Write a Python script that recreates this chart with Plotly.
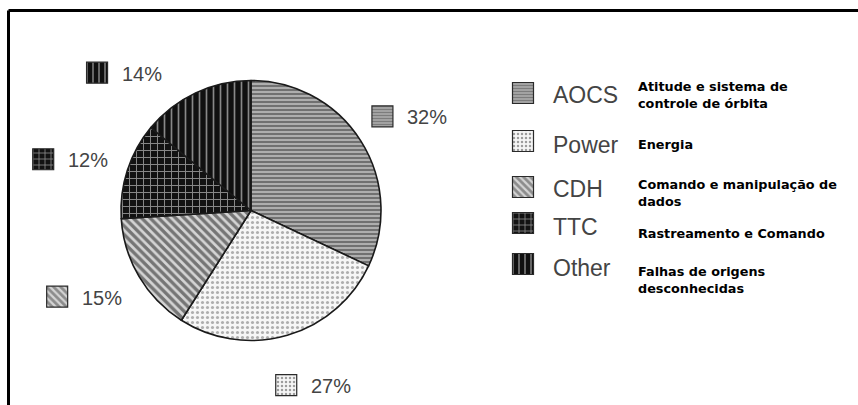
import math
import plotly.graph_objects as go

# ---- data ----
categories = ["AOCS", "Power", "CDH", "TTC", "Other"]
shares = [32, 27, 15, 12, 14]
descriptions = [
    "Atitude e sistema de<br>controle de órbita",
    "Energia",
    "Comando e manipulação de<br>dados",
    "Rastreamento e Comando",
    "Falhas de origens<br>desconhecidas",
]

# ---- layout constants (pixels) ----
W, H = 858, 405
CX, CY, R = 251, 210.5, 130          # pie centre (from top) and radius
LABEL_R = 186                        # distance of percentage labels from centre
LABEL_SHIFT = [2, -4, 3, -2, -17]    # angular nudges of the percentage labels
ROW_Y = [93, 141, 187, 223, 264]     # legend icon rows (centre)
NAME_Y = [95, 145, 189, 227, 268]
DESC_Y = [95, 144, 193, 234, 280]
ICON_X, NAME_X, DESC_X = 523, 551, 636
ICON = 21

pattern_shape = ["-", ".", "\\", "+", "|"]
pattern_fg = ["#2e2e2e", "#666666", "#151515", "#ffffff", "#ffffff"]
pattern_bg = ["#b4b4b4", "#f6f6f6", "#d4d4d4", "#121212", "#101010"]
pattern_size = [4, 5, 6, 7, 7]
pattern_solid = [0.55, 0.3, 0.55, 0.26, 0.24]

fig = go.Figure()
fig.add_trace(
    go.Pie(
        labels=categories,
        values=shares,
        sort=False,
        direction="clockwise",
        rotation=0,
        textinfo="none",
        showlegend=False,
        hoverinfo="label+percent",
        marker=dict(
            colors=pattern_bg,
            line=dict(color="#1a1a1a", width=1.6),
            pattern=dict(shape=pattern_shape, fgcolor=pattern_fg, bgcolor=pattern_bg,
                         size=pattern_size, solidity=pattern_solid, fillmode="overlay"),
        ),
        domain=dict(x=[(CX - R) / W, (CX + R) / W], y=[(H - CY - R) / H, (H - CY + R) / H]),
    )
)

# positions of percentage labels from the slice mid-angles
label_pos = []
total = sum(shares)
cum = 0
for i, v in enumerate(shares):
    mid = (cum + v / 2) / total * 360 + LABEL_SHIFT[i]
    cum += v
    label_pos.append((CX + LABEL_R * math.sin(math.radians(mid)),
                      CY - LABEL_R * math.cos(math.radians(mid))))

# pattern swatches (keys) drawn as patterned bars in a pixel-space overlay axis
key_x = [lx - 29 for lx, ly in label_pos] + [ICON_X] * len(categories)
key_y = [ly for lx, ly in label_pos] + ROW_Y
n = len(key_x)
fig.add_trace(
    go.Bar(
        x=key_x,
        y=[ICON] * n,
        base=[yc - ICON / 2 for yc in key_y],
        width=[ICON] * n,
        showlegend=False,
        hoverinfo="skip",
        marker=dict(
            color=pattern_bg * 2,
            line=dict(color="#2a2a2a", width=1.2),
            pattern=dict(shape=pattern_shape * 2, fgcolor=pattern_fg * 2, bgcolor=pattern_bg * 2,
                         size=[max(3, s - 1) for s in pattern_size] * 2,
                         solidity=pattern_solid * 2, fillmode="overlay"),
        ),
    )
)

def px(x, y):
    return x / W, 1 - y / H

annotations = []
for i, v in enumerate(shares):
    lx, ly = label_pos[i]
    tx, ty = px(lx - 6, ly + 1)
    annotations.append(dict(x=tx, y=ty, xref="paper", yref="paper", text=f"{v}%",
                            showarrow=False, xanchor="left", yanchor="middle",
                            font=dict(family="Liberation Sans, Arial", size=20, color="#444444")))

for i, name in enumerate(categories):
    x, y = px(NAME_X, NAME_Y[i])
    annotations.append(dict(x=x, y=y, xref="paper", yref="paper", text=name,
                            showarrow=False, xanchor="left", yanchor="middle",
                            font=dict(family="Liberation Sans, Arial", size=23, color="#444444")))
    x, y = px(DESC_X, DESC_Y[i])
    annotations.append(dict(x=x, y=y, xref="paper", yref="paper", text=descriptions[i],
                            showarrow=False, xanchor="left", yanchor="middle", align="left",
                            font=dict(family="DejaVu Sans", size=12.8, color="#000000", weight="bold")))

fig.update_layout(
    width=W, height=H,
    margin=dict(l=0, r=0, t=0, b=0),
    paper_bgcolor="white",
    plot_bgcolor="rgba(0,0,0,0)",
    barmode="overlay",
    xaxis=dict(range=[0, W], visible=False, fixedrange=True, domain=[0, 1]),
    yaxis=dict(range=[H, 0], visible=False, fixedrange=True, domain=[0, 1]),
    annotations=annotations,
    shapes=[
        dict(type="line", xref="paper", yref="paper", x0=8.5 / W, x1=1, y0=1 - 10.5 / H, y1=1 - 10.5 / H,
             line=dict(color="black", width=3)),
        dict(type="line", xref="paper", yref="paper", x0=8.5 / W, x1=8.5 / W, y0=0, y1=1 - 10.5 / H,
             line=dict(color="black", width=3)),
    ],
)

fig.write_html("out.html", config={"displayModeBar": False},
               post_script="document.body.style.margin='0';document.body.style.padding='0';")
